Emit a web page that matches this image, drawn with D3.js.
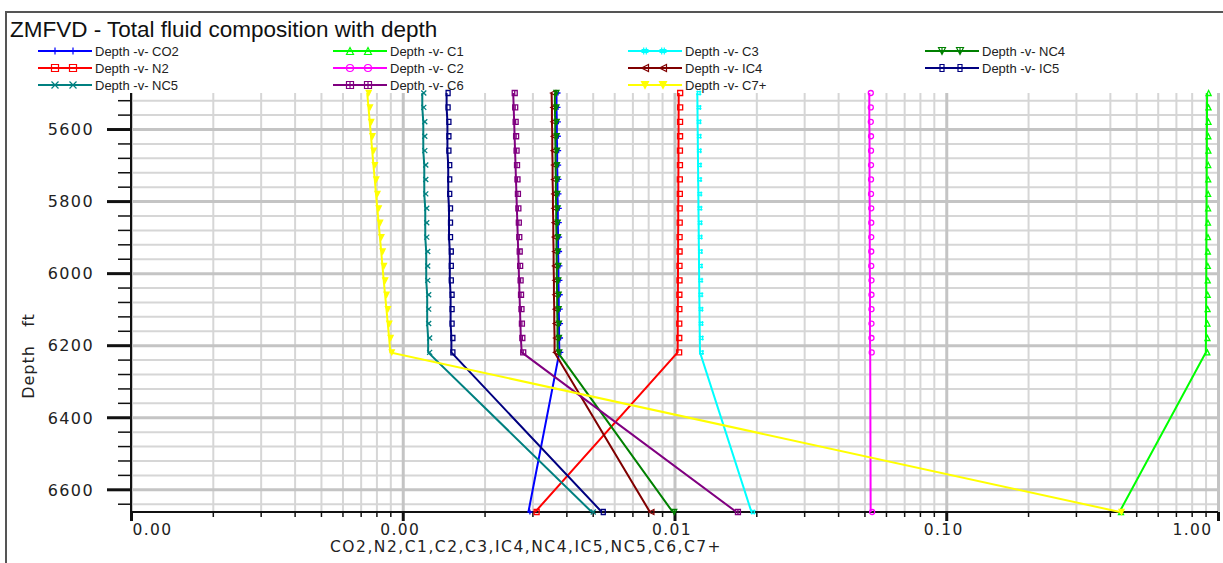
<!DOCTYPE html>
<html>
<head>
<meta charset="utf-8">
<script src="https://cdn.jsdelivr.net/npm/d3@7/dist/d3.min.js"></script>
<style>
  body { margin: 0; background: #fff; }
  svg text { font-family: "DejaVu Sans", sans-serif; }
  .grid .domain { display: none; }
</style>
</head>
<body>
<div id="wrapper"></div>
<script>
// depth of every data point (ft)
const depth = [5500, 5540, 5580, 5620, 5660, 5700, 5740, 5780, 5820, 5860,
               5900, 5940, 5980, 6020, 6060, 6100, 6140, 6180, 6220, 6663];

// mole fractions
const co2 = [0.00368, 0.00368, 0.00369, 0.00369, 0.00370, 0.00370, 0.00371, 0.00371, 0.00372, 0.00372,
             0.00373, 0.00373, 0.00374, 0.00374, 0.00375, 0.00375, 0.00376, 0.00376, 0.00377, 0.00290];
const n2  = [0.01036, 0.01036, 0.01035, 0.01035, 0.01034, 0.01034, 0.01033, 0.01033, 0.01032, 0.01032,
             0.01031, 0.01031, 0.01030, 0.01030, 0.01029, 0.01029, 0.01028, 0.01028, 0.01027, 0.00307];
const c1  = [0.912, 0.911, 0.911, 0.910, 0.910, 0.909, 0.909, 0.908, 0.908, 0.907,
             0.907, 0.906, 0.906, 0.905, 0.905, 0.904, 0.903, 0.903, 0.902, 0.434];
const c2  = [0.0521, 0.0521, 0.0521, 0.0522, 0.0522, 0.0522, 0.0522, 0.0522, 0.0523, 0.0523,
             0.0523, 0.0523, 0.0523, 0.0524, 0.0524, 0.0524, 0.0524, 0.0524, 0.0525, 0.0527];
const c3  = [0.01213, 0.01215, 0.01216, 0.01218, 0.01219, 0.01221, 0.01222, 0.01224, 0.01225, 0.01227,
             0.01228, 0.01230, 0.01231, 0.01233, 0.01234, 0.01236, 0.01237, 0.01239, 0.01241, 0.0192];
const ic4 = [0.00353, 0.00354, 0.00354, 0.00355, 0.00355, 0.00356, 0.00356, 0.00357, 0.00357, 0.00358,
             0.00358, 0.00359, 0.00359, 0.00360, 0.00360, 0.00361, 0.00361, 0.00362, 0.00362, 0.00812];
const nc4 = [0.00363, 0.00363, 0.00364, 0.00364, 0.00365, 0.00365, 0.00366, 0.00366, 0.00367, 0.00367,
             0.00368, 0.00368, 0.00369, 0.00369, 0.00370, 0.00370, 0.00371, 0.00371, 0.00372, 0.00985];
const ic5 = [0.00145, 0.00145, 0.00146, 0.00146, 0.00146, 0.00147, 0.00147, 0.00147, 0.00148, 0.00148,
             0.00148, 0.00149, 0.00149, 0.00149, 0.00150, 0.00150, 0.00150, 0.00151, 0.00151, 0.00540];
const nc5 = [0.00118, 0.00118, 0.00119, 0.00119, 0.00119, 0.00120, 0.00120, 0.00120, 0.00121, 0.00121,
             0.00121, 0.00122, 0.00122, 0.00122, 0.00123, 0.00123, 0.00123, 0.00124, 0.00124, 0.00496];
const c6  = [0.00255, 0.00256, 0.00257, 0.00258, 0.00259, 0.00260, 0.00261, 0.00262, 0.00263, 0.00264,
             0.00265, 0.00266, 0.00267, 0.00268, 0.00269, 0.00270, 0.00271, 0.00272, 0.00274, 0.0169];
const c7p = [0.000740, 0.000748, 0.000756, 0.000764, 0.000772, 0.000780, 0.000789, 0.000797, 0.000806, 0.000815,
             0.000824, 0.000833, 0.000842, 0.000851, 0.000861, 0.000871, 0.000881, 0.000891, 0.000900, 0.436];

const seriesNames   = ['CO2', 'N2', 'C1', 'C2', 'C3', 'IC4', 'NC4', 'IC5', 'NC5', 'C6', 'C7+'];
const seriesValues  = [co2, n2, c1, c2, c3, ic4, nc4, ic5, nc5, c6, c7p];
const seriesColors  = ['#0000ff', '#ff0000', '#00ff00', '#ff00ff', '#00ffff', '#800000',
                       '#008000', '#000080', '#008080', '#800080', '#ffff00'];
const seriesMarkers = ['plus', 'square', 'triUp', 'circle', 'hash', 'triLeft',
                       'triDown', 'oval', 'cross', 'sqHash', 'triFill'];

const xTickValues = [0.0001, 0.001, 0.01, 0.1, 1];
const xTickLabels = ['0.00', '0.00', '0.01', '0.10', '1.00'];
const yTickValues = [5600, 5800, 6000, 6200, 6400, 6600];

drawChart();

function markerPath(type, s) {
  switch (type) {
    case 'plus':    return `M${-s},0H${s}M0,${-s}V${s}`;
    case 'square':  return `M${-s},${-s}H${s}V${s}H${-s}Z`;
    case 'triUp':   return `M0,${-s}L${s},${s}L${-s},${s}Z`;
    case 'circle':  return `M${s},0A${s},${s} 0 1,1 ${-s},0A${s},${s} 0 1,1 ${s},0`;
    case 'hash':    return `M-1.3,${-s}V${s}M1.3,${-s}V${s}M${-s},-1.3H${s}M${-s},1.3H${s}`;
    case 'triLeft': return `M${-s},0L${s},${-s}L${s},${s}Z`;
    case 'triDown': return `M${-s},${-s}L${s},${-s}L0,${s}ZM0,${-s}V${s}`;
    case 'oval':    return `M-2,${-s}H2V${s}H-2Z`;
    case 'cross':   return `M${-s},${-s}L${s},${s}M${-s},${s}L${s},${-s}`;
    case 'sqHash':  return `M${-s},${-s}H${s}V${s}H${-s}ZM0,${-s}V${s}`;
    case 'triFill': return `M${-s},${-s}L${s},${-s}L0,${s}Z`;
  }
}

function drawChart() {
  const dimensions = {
    width: 1223,
    height: 563,
    margin: { top: 93, right: 5, bottom: 51, left: 131 }
  };
  dimensions.boundW = dimensions.width - dimensions.margin.left - dimensions.margin.right;
  dimensions.boundH = dimensions.height - dimensions.margin.top - dimensions.margin.bottom;

  const svg = d3.select('#wrapper').append('svg')
    .attr('width', dimensions.width)
    .attr('height', dimensions.height)
    .style('background', '#fff');

  // outer frame
  svg.append('path')
    .attr('d', `M6,${dimensions.height}V12H${dimensions.width}`)
    .attr('fill', 'none')
    .attr('stroke', '#555')
    .attr('stroke-width', 2);

  svg.append('text')
    .attr('x', 10).attr('y', 37)
    .style('font-family', 'Arial, "Liberation Sans", sans-serif')
    .style('font-size', '22.5px')
    .attr('fill', '#111')
    .text('ZMFVD - Total fluid composition with depth');

  const bounds = svg.append('g')
    .attr('transform', `translate(${dimensions.margin.left},${dimensions.margin.top})`);

  const xScale = d3.scaleLog()
    .domain([0.0001, 1])
    .range([0, dimensions.boundW]);

  const yScale = d3.scaleLinear()
    .domain([5500, 6663])
    .range([0, dimensions.boundH]);

  // tick sets
  const xMinor = [];
  [0.0001, 0.001, 0.01, 0.1].forEach(d => { for (let k = 2; k <= 9; k++) xMinor.push(d * k); });
  const yMinor = d3.range(5520, 6663, 40).filter(d => !yTickValues.includes(d));

  // grid
  const gridLayer = bounds.append('g');
  const gridStyle = (sel, color, w) => {
    sel.select('.domain').remove();
    sel.selectAll('line').attr('stroke', color).attr('stroke-width', w);
  };
  gridLayer.append('g').attr('class', 'grid')
    .call(d3.axisLeft(yScale).tickValues(yMinor).tickSize(-dimensions.boundW).tickFormat(''))
    .call(gridStyle, '#d6d6d6', 2);
  gridLayer.append('g').attr('class', 'grid')
    .attr('transform', `translate(0,${dimensions.boundH})`)
    .call(d3.axisBottom(xScale).tickValues(xMinor).tickSize(-dimensions.boundH).tickFormat(''))
    .call(gridStyle, '#d6d6d6', 2);
  gridLayer.append('g').attr('class', 'grid')
    .call(d3.axisLeft(yScale).tickValues(yTickValues).tickSize(-dimensions.boundW).tickFormat(''))
    .call(gridStyle, '#c4c4c4', 3);
  gridLayer.append('g').attr('class', 'grid')
    .attr('transform', `translate(0,${dimensions.boundH})`)
    .call(d3.axisBottom(xScale).tickValues(xTickValues).tickSize(-dimensions.boundH).tickFormat(''))
    .call(gridStyle, '#c4c4c4', 3);

  // axes
  const axisStyle = (sel, w, fs) => {
    sel.select('.domain').remove();
    sel.selectAll('line').attr('stroke', '#111').attr('stroke-width', w);
    sel.selectAll('text')
      .style('font-family', '"DejaVu Sans", sans-serif')
      .style('font-size', fs || '16px')
      .style('letter-spacing', '1.4px')
      .attr('fill', '#222');
  };

  bounds.append('g')
    .call(d3.axisLeft(yScale).tickValues(yMinor).tickSize(13).tickFormat(''))
    .call(axisStyle, 1.5);
  const yAxis = bounds.append('g')
    .call(d3.axisLeft(yScale).tickValues(yTickValues).tickSize(24).tickPadding(13).tickFormat(d3.format('d')))
    .call(axisStyle, 3);
  yAxis.selectAll('text').attr('dy', '0.36em');

  const xAxisPos = `translate(0,${dimensions.boundH})`;
  bounds.append('g').attr('transform', xAxisPos)
    .call(d3.axisBottom(xScale).tickValues(xMinor).tickSize(5).tickFormat(''))
    .call(axisStyle, 1.5);
  const xAxis = bounds.append('g').attr('transform', xAxisPos)
    .call(d3.axisBottom(xScale).tickValues(xTickValues).tickSize(9).tickPadding(3)
      .tickFormat((d, i) => xTickLabels[i]))
    .call(axisStyle, 3, '15.5px');
  xAxis.selectAll('text')
    .attr('text-anchor', (d, i) => i === 0 ? 'start' : (i === xTickValues.length - 1 ? 'end' : 'middle'))
    .attr('dx', (d, i) => i === 0 ? 1 : (i === xTickValues.length - 1 ? -6 : -3));

  // axis lines
  bounds.append('path')
    .attr('d', `M0,0V${dimensions.boundH}H${dimensions.boundW}`)
    .attr('fill', 'none')
    .attr('stroke', '#111')
    .attr('stroke-width', 2);

  // axis titles
  svg.append('text')
    .attr('x', 330).attr('y', 552)
    .style('font-size', '15.5px')
    .style('letter-spacing', '1.5px')
    .attr('fill', '#222')
    .text('CO2,N2,C1,C2,C3,IC4,NC4,IC5,NC5,C6,C7+');

  svg.append('text')
    .attr('transform', 'translate(34,356) rotate(-90)')
    .attr('text-anchor', 'middle')
    .style('font-size', '16px')
    .style('letter-spacing', '1px')
    .attr('fill', '#222')
    .attr('xml:space', 'preserve')
    .text('Depth   ft');

  // data lines
  const lineGenerator = d3.line()
    .x(d => xScale(d[1]))
    .y(d => yScale(d[0]));

  seriesNames.forEach((name, i) => {
    const pts = depth.map((dp, j) => [dp, seriesValues[i][j]]);
    const g = bounds.append('g');
    g.append('path')
      .attr('d', lineGenerator(pts))
      .attr('fill', 'none')
      .attr('stroke', seriesColors[i])
      .attr('stroke-width', 2);
    g.selectAll('path.mk')
      .data(pts)
      .join('path')
      .attr('class', 'mk')
      .attr('transform', d => `translate(${xScale(d[1]) + 1.5},${yScale(d[0])})`)
      .attr('d', markerPath(seriesMarkers[i], 2.5))
      .attr('fill', seriesMarkers[i] === 'triFill' ? seriesColors[i] : 'none')
      .attr('stroke', seriesColors[i])
      .attr('stroke-width', 1.3);
  });

  // legend
  const legendCols = [38, 333, 628, 925];
  const legendRows = [51, 68, 85];
  const legend = svg.append('g');
  seriesNames.forEach((name, i) => {
    const col = i < 8 ? Math.floor(i / 2) : i - 8;
    const row = i < 8 ? i % 2 : 2;
    const lx = legendCols[col], ly = legendRows[row];
    const item = legend.append('g').attr('transform', `translate(${lx},${ly})`);
    item.append('line')
      .attr('x1', 0).attr('x2', 54)
      .attr('stroke', seriesColors[i])
      .attr('stroke-width', 2);
    [17, 35].forEach(mx => {
      item.append('path')
        .attr('transform', `translate(${mx},0)`)
        .attr('d', markerPath(seriesMarkers[i], 3.5))
        .attr('fill', seriesMarkers[i] === 'triFill' ? seriesColors[i] : 'none')
        .attr('stroke', seriesColors[i])
        .attr('stroke-width', 1.2);
    });
    item.append('text')
      .attr('x', 57).attr('y', 4.5)
      .style('font-family', 'Arial, "Liberation Sans", sans-serif')
      .style('font-size', '13px')
      .attr('fill', '#222')
      .text(`Depth -v- ${name}`);
  });
}
</script>
</body>
</html>
